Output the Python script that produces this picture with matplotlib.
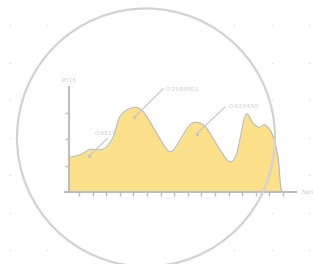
import numpy as np
import matplotlib
matplotlib.use("Agg")
import matplotlib.pyplot as plt
from matplotlib.patches import Circle

# values (x in tick steps, y in tick units)
curve_x = [-0.71, 0.07, 0.81, 1.54, 2.03, 2.52, 3.01, 3.99, 4.73, 5.71, 6.69,
           7.43, 8.16, 8.77, 9.39, 10.37, 11.10, 11.60, 12.26, 12.80, 13.26,
           13.68, 14.29, 14.66, 14.85, 15.27]
curve_y = [1.32, 1.41, 1.62, 1.60, 1.72, 2.10, 2.86, 3.21, 3.05, 2.23, 1.53,
           1.98, 2.55, 2.64, 2.42, 1.60, 1.15, 1.47, 2.93, 2.61, 2.46,
           2.55, 2.10, 1.22, 0.14, 0.01]

note_labels = ["0.681963", "0.2548801", "0.933450"]
note_dot_x = [0.76, 4.07, 8.65]
note_dot_y = [1.37, 2.84, 2.21]
note_end_x = [2.06, 6.18, 10.74]
note_end_y = [2.02, 3.92, 3.23]
note_txt_x = [1.15, 6.40, 11.03]
note_txt_y = [2.22, 3.88, 3.23]

x_ticks = list(range(16))
y_ticks = [1, 2, 3]
series_name = "2015"
axis_name = "Name"

AREA = "#fde08a"
GREY = "#bdbdbd"
TXT = "#cccccc"


def smooth(x, y, n=800):
    # catmull-rom style cubic hermite, only for drawing the curve smoothly
    x = np.asarray(x, float)
    y = np.asarray(y, float)
    h = np.diff(x)
    m = np.zeros_like(y)
    m[0] = (y[1] - y[0]) / h[0]
    m[-1] = (y[-1] - y[-2]) / h[-1]
    for i in range(1, len(x) - 1):
        m[i] = (y[i + 1] - y[i - 1]) / (x[i + 1] - x[i - 1])
    xs = np.linspace(x[0], x[-1], n)
    k = np.clip(np.searchsorted(x, xs) - 1, 0, len(x) - 2)
    t = (xs - x[k]) / h[k]
    h00 = 2 * t**3 - 3 * t**2 + 1
    h10 = t**3 - 2 * t**2 + t
    h01 = -2 * t**3 + 3 * t**2
    h11 = t**3 - t**2
    ys = h00 * y[k] + h10 * h[k] * m[k] + h01 * y[k + 1] + h11 * h[k] * m[k + 1]
    return xs, np.clip(ys, 0, None)


W, H = 313, 264
fig = plt.figure(figsize=(W / 100, H / 100), dpi=100)

# background: dot grid and white disc, in pixel coords
bg = fig.add_axes([0, 0, 1, 1], zorder=0)
bg.set_xlim(0, W)
bg.set_ylim(H, 0)
bg.axis("off")
gx, gy = np.meshgrid(np.arange(10, 320, 37.4), np.arange(25, 264, 37.5))
bg.scatter(gx.ravel(), gy.ravel(), s=1.2, color="#dedede", linewidths=0)
bg.add_patch(Circle((146, 137.5), 129, facecolor="white", edgecolor="none"))

# chart area
px_l, px_r, px_t, px_b = 65, 296, 87, 192
ax = fig.add_axes([px_l / W, 1 - px_b / H, (px_r - px_l) / W, (px_b - px_t) / H], zorder=1)
ax.patch.set_alpha(0)
ax.set_xlim(-1.03, 15.96)
ax.set_ylim(0, 3.99)

xs, ys = smooth(curve_x, curve_y)
ax.fill_between(xs, 0, ys, color=AREA, zorder=2, linewidth=0)
ax.plot(xs, ys, color="#b8b8b8", lw=0.8, zorder=2.2)

for i, lab in enumerate(note_labels):
    ax.text(note_txt_x[i], note_txt_y[i], lab, fontsize=4.6, color=TXT,
            va="center", ha="left", zorder=1)
    ax.plot([note_dot_x[i], note_end_x[i]], [note_dot_y[i], note_end_y[i]],
            color="#c4c4c4", lw=0.8, zorder=3)
    ax.plot(note_dot_x[i], note_dot_y[i], "o", ms=2.4, color="#c4c4c4",
            mec="none", zorder=3)

for s in ["top", "right"]:
    ax.spines[s].set_visible(False)
ax.spines["left"].set_position(("data", -0.735))
for s in ["left", "bottom"]:
    ax.spines[s].set_color(GREY)
    ax.spines[s].set_linewidth(1.5)
    ax.spines[s].set_zorder(2.5)
ax.set_xticks(x_ticks)
ax.set_yticks(y_ticks)
ax.set_xticklabels([])
ax.set_yticklabels([])
ax.tick_params(length=3.2, width=1.0, color=GREY)

fig.text(61 / W, 1 - 80 / H, series_name, fontsize=4.6, color=TXT, va="center", ha="left")
# the axis name runs off the right edge, as in the reference
fig.text(301 / W, 1 - 193 / H, axis_name, fontsize=4.6, color=TXT, va="center", ha="left")

# circle outline on top of everything
top = fig.add_axes([0, 0, 1, 1], zorder=3)
top.set_xlim(0, W)
top.set_ylim(H, 0)
top.axis("off")
top.patch.set_alpha(0)
top.add_patch(Circle((146, 137.5), 129, facecolor="none", edgecolor="#d2d2d2", lw=1.6))

fig.savefig("out.png", dpi=100, facecolor="white")
